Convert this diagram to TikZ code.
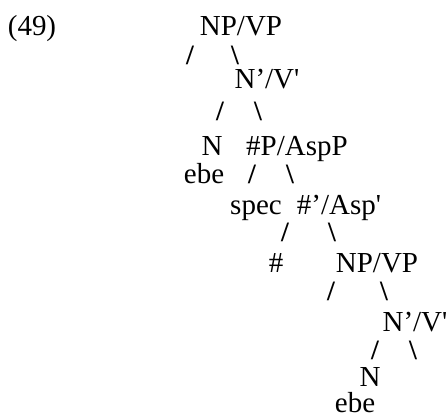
\documentclass[tikz,border=0pt]{standalone}
\usepackage{fontspec}
\setmainfont{Liberation Serif}
\usepackage{tikz}

\begin{document}
\begin{tikzpicture}[x=1pt, y=-1pt,
				lab/.style={anchor=base, inner sep=0pt, outer sep=0pt},
				br/.style={anchor=base, inner sep=0pt, outer sep=0pt, font=\fontsize{28}{33}\selectfont\bfseries},
				font=\fontsize{29}{33}\selectfont]
				%Bildbereich
				\useasboundingbox (0,0) rectangle (448,418);
				% Nummer
				\node[lab] (nr) at (32,35) {(49)};
				% Knoten
				\node[lab] (np1) at (241,35) {NP/VP};
				\node[lab] (nb1) at (267,88) {N’/V\textquotesingle};
				\node[lab] (n1) at (212,155) {N};
				\node[lab] (asp) at (297,155) {\#P/AspP};
				\node[lab] (ebe1) at (204,183) {ebe};
				\node[lab] (spec) at (256,214) {spec};
				\node[lab] (aspb) at (339,214) {\#’/Asp\textquotesingle};
				\node[lab] (num) at (276,272) {\#};
				\node[lab] (np2) at (377,272) {NP/VP};
				\node[lab] (nb2) at (415,331) {N’/V\textquotesingle};
				\node[lab] (n2) at (370,386) {N};
				\node[lab] (ebe2) at (355,412) {ebe};
				% Aeste
				\foreach \l/\r/\y/\i in {190/235/64/1, 220/258/120/2, 252/290/183/3,
						285/332/241/4, 331/384/300/5, 375/413/359/6}
				{
					\node[br] (l\i) at (\l,\y) {/};
					\node[br] (r\i) at (\r,\y) {\textbackslash};
				}
\end{tikzpicture}
\end{document}
